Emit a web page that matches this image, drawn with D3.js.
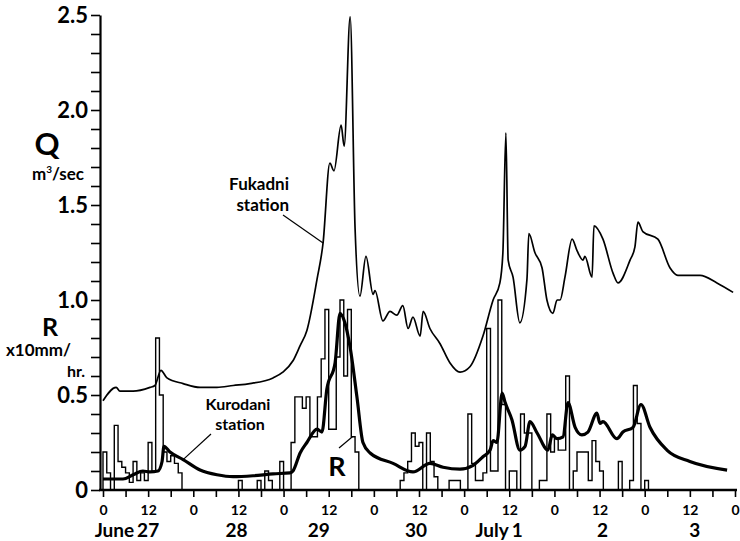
<!DOCTYPE html>
<html>
<head>
<meta charset="utf-8">
<style>
  body { margin: 0; background: #fff; }
  svg text { font-family: Lato, "DejaVu Sans", sans-serif; font-weight: 700; fill: #000; }
  .axis line, .axis path { stroke: #000; }
</style>
</head>
<body>
<div id="chart"></div>
<script src="https://d3js.org/d3.v7.min.js"></script>
<script>
// time is in hours counted from June 27, 0h
var fukadniHours = [0,3.5,4.5,8,12.5,13.8,15.4,17,21.3,25.8,30.3,34.6,39,45.2,47.8,50.5,52.4,54.2,56.9,58.5,
  60.3,61.4,63.3,64.1,65.7,67,68.3,69.9,71.8,72.3,74.4,76.3,78.1,79.7,81.1,82.4,84.3,85.1,86.9,89.6,
  92.2,94.9,97.6,101,103.7,105.5,106.3,107.1,107.7,109,110.8,112.7,113.2,114.8,116.7,118,119.6,120.7,121.5,122.8,
  124.7,126,127.6,128.1,130,130.5,132.9,135.6,136.9,140.1,141.4,142.2,143.5,147.5,150.7,152.8,158.7,163.2,167.5];
var fukadniQ = [0.47,0.54,0.52,0.52,0.54,0.55,0.63,0.59,0.56,0.54,0.54,0.55,0.56,0.59,0.62,0.68,0.76,0.84,1.11,1.30,
  1.72,1.68,1.92,1.81,2.49,1.38,1.02,1.23,1.03,1.05,0.89,0.94,0.92,0.97,0.85,0.91,0.81,0.94,0.85,0.77,
  0.67,0.62,0.65,0.81,1.0,1.09,1.25,1.88,1.21,1.12,0.88,1.11,1.35,1.25,1.17,1.0,0.93,1.0,1.0,1.12,
  1.32,1.26,1.21,1.23,1.12,1.39,1.32,1.14,1.09,1.21,1.28,1.41,1.36,1.32,1.17,1.13,1.13,1.09,1.04];

var kurodaniHours = [0,5.3,8,10.6,12.5,14.6,15.7,16.2,17.8,21.3,25.8,30.3,34.6,39.9,45.2,49.7,50.5,52.4,54.2,56.9,
  58.2,59.5,61.7,63,64.3,65.7,67.5,69.1,71,77.1,82.4,86.9,90.4,94.9,98.4,101,102.9,103.7,104.7,106.1,
  106.9,108.7,110.8,112.2,113.5,115.4,118.3,119.4,120.7,122.3,123.6,125.5,127.3,128.9,131.3,132.1,132.9,136.6,138.2,140.9,
  143,145.4,149.9,156,165.9];
var kurodaniQ = [0.058,0.058,0.08,0.10,0.095,0.10,0.15,0.23,0.20,0.16,0.105,0.08,0.07,0.075,0.085,0.09,0.10,0.195,0.25,0.32,
  0.305,0.53,0.67,0.93,0.88,0.75,0.49,0.25,0.195,0.14,0.095,0.14,0.12,0.11,0.13,0.175,0.21,0.26,0.25,0.51,
  0.46,0.37,0.21,0.23,0.36,0.30,0.21,0.29,0.27,0.28,0.46,0.33,0.29,0.305,0.405,0.35,0.36,0.27,0.305,0.33,
  0.45,0.33,0.21,0.15,0.105];

// hourly rainfall R (x10 mm/hr), one row per day
var rainfall = [
  0.2,0.09,0,0.34,0.15,0.12,0.09,0.04,0.15,0.05,0.09,0.05,0.25,0.1,0.8,0.5,0.2,0.15,0.18,0.14,0.09,0,0,0,
  0,0,0,0,0,0,0,0,0,0,0,0,0.05,0,0,0,0,0.05,0,0.1,0.05,0,0,0.15,
  0,0,0.25,0.49,0.49,0.43,0.49,0.28,0.28,0.49,0.69,0.95,0.32,0.32,0.7,1.0,0.6,0.95,0.28,0.2,0,0,0,0,
  0,0,0,0,0,0,0,0.05,0.09,0.15,0.3,0.23,0.25,0,0.3,0.15,0.07,0,0,0,0.05,0.05,0.05,0,
  0,0.4,0.14,0.05,0.05,0.09,0.85,0.1,0.1,1.0,0.45,0,0.1,0.1,0,0.4,0.3,0.3,0,0,0.05,0.05,0.4,0.2,
  0.27,0.21,0.21,0.6,0,0.1,0.2,0.2,0.2,0.05,0.26,0.15,0.1,0,0,0,0,0.15,0,0,0.05,0.55,0.35,0,
  0.05,0,0,0,0,0,0,0,0,0,0,0,0,0,0,0,0,0,0,0,0,0,0,0
];

var dayNumbers = ["27","28","29","30","1","2","3"];
var monthNames = ["June","","","","July","",""];
var yTickLabels = ["0","0.5","1.0","1.5","2.0","2.5"];

// small nudges of the day labels, as in the printed figure
var dayShift = [0,-2,-10,-3,8,3,5];

var width = 740, height = 541;

var svg = d3.select("#chart")
  .append("svg")
    .attr("width", width)
    .attr("height", height);

var x = d3.scaleLinear().domain([0, 168]).range([103, 735]);
var y = d3.scaleLinear().domain([0, 2.5]).range([490, 15]);

// Y axis, ticks every 0.1
var yAxis = svg.append("g")
  .attr("class", "axis")
  .attr("transform", "translate(100,0)")
  .call(d3.axisLeft(y)
    .tickValues(d3.range(26).map(function(i) { return i / 10; }))
    .tickSize(9).tickSizeOuter(0).tickPadding(3)
    .tickFormat(function(d, i) { return i % 5 === 0 ? yTickLabels[i / 5] : ""; }));
yAxis.select(".domain").attr("stroke-width", 2.2);
yAxis.selectAll(".tick line").attr("stroke-width", 1.6);
yAxis.selectAll("text").style("font-size", "22px");

// X axis, ticks every 6 hours
var xAxis = svg.append("g")
  .attr("class", "axis")
  .attr("transform", "translate(0,490)")
  .call(d3.axisBottom(x)
    .tickValues(d3.range(0, 169, 6))
    .tickSize(7).tickSizeOuter(0).tickPadding(8)
    .tickFormat(function(d) { return d % 24 === 0 ? "0" : (d % 12 === 0 ? "12" : ""); }));
xAxis.select(".domain").remove();
xAxis.append("line")
  .attr("x1", 99).attr("x2", 737)
  .attr("stroke", "#000").attr("stroke-width", 2.6);
xAxis.selectAll(".tick line").attr("stroke-width", 1.6);
xAxis.selectAll("text").style("font-size", "14px");

// day labels under the 12h ticks
var days = svg.append("g");
dayNumbers.forEach(function(num, i) {
  var cx = x(i * 24 + 12) + dayShift[i];
  var t = days.append("text")
    .attr("x", cx).attr("y", 537)
    .attr("text-anchor", "middle")
    .style("font-size", "19px")
    .text(num);
  if (monthNames[i]) {
    var w = t.node().getComputedTextLength();
    days.append("text")
      .attr("x", cx - w / 2 - 3).attr("y", 537)
      .attr("text-anchor", "end")
      .style("font-size", "19px")
      .text(monthNames[i]);
  }
});

// rainfall histogram
var rainPts = [[0, 0]].concat(
  rainfall.map(function(v, i) { return [i, v]; }),
  [[rainfall.length, 0]]);
svg.append("path")
  .datum(rainPts)
  .attr("fill", "none")
  .attr("stroke", "#000")
  .attr("stroke-width", 1.4)
  .attr("d", d3.line()
    .x(function(d) { return x(d[0]); })
    .y(function(d) { return y(d[1]); })
    .curve(d3.curveStepAfter));

var flow = d3.line()
  .x(function(d) { return x(d[0]); })
  .y(function(d) { return y(d[1]); })
  .curve(d3.curveMonotoneX);

// Fukadni station (thin)
svg.append("path")
  .datum(d3.zip(fukadniHours, fukadniQ))
  .attr("fill", "none")
  .attr("stroke", "#000")
  .attr("stroke-width", 1.7)
  .attr("d", flow);

// Kurodani station (thick)
svg.append("path")
  .datum(d3.zip(kurodaniHours, kurodaniQ))
  .attr("fill", "none")
  .attr("stroke", "#000")
  .attr("stroke-width", 3.2)
  .attr("stroke-linejoin", "round")
  .attr("d", flow);

// axis titles
svg.append("text").attr("x", 47).attr("y", 155).attr("text-anchor", "middle")
  .style("font-size", "31px").text("Q");
var qu = svg.append("text").attr("x", 32).attr("y", 180).style("font-size", "17px");
qu.append("tspan").text("m");
qu.append("tspan").attr("dy", -7).style("font-size", "10px").text("3");
qu.append("tspan").attr("dy", 7).text("/sec");

svg.append("text").attr("x", 50).attr("y", 336).attr("text-anchor", "middle")
  .style("font-size", "25px").text("R");
svg.append("text").attr("x", 6).attr("y", 356).style("font-size", "17px").text("x10mm/");
svg.append("text").attr("x", 67).attr("y", 377).style("font-size", "16px").text("hr.");

// station labels with leader lines
svg.append("text").attr("x", 289).attr("y", 190).attr("text-anchor", "end")
  .style("font-size", "17px").text("Fukadni");
svg.append("text").attr("x", 289).attr("y", 211).attr("text-anchor", "end")
  .style("font-size", "17px").text("station");
svg.append("line").attr("x1", 283).attr("y1", 215).attr("x2", x(58.5)).attr("y2", y(1.3))
  .attr("stroke", "#000").attr("stroke-width", 1.2);

svg.append("text").attr("x", 238).attr("y", 410).attr("text-anchor", "middle")
  .style("font-size", "16px").text("Kurodani");
svg.append("text").attr("x", 240).attr("y", 430).attr("text-anchor", "middle")
  .style("font-size", "16px").text("station");
svg.append("line").attr("x1", 211).attr("y1", 434).attr("x2", x(21.3)).attr("y2", y(0.16))
  .attr("stroke", "#000").attr("stroke-width", 1.2);

svg.append("text").attr("x", 337).attr("y", 476).attr("text-anchor", "middle")
  .style("font-size", "27px").text("R");
svg.append("line").attr("x1", 339).attr("y1", 448).attr("x2", x(66.3)).attr("y2", y(0.28))
  .attr("stroke", "#000").attr("stroke-width", 1.2);
</script>
</body>
</html>
